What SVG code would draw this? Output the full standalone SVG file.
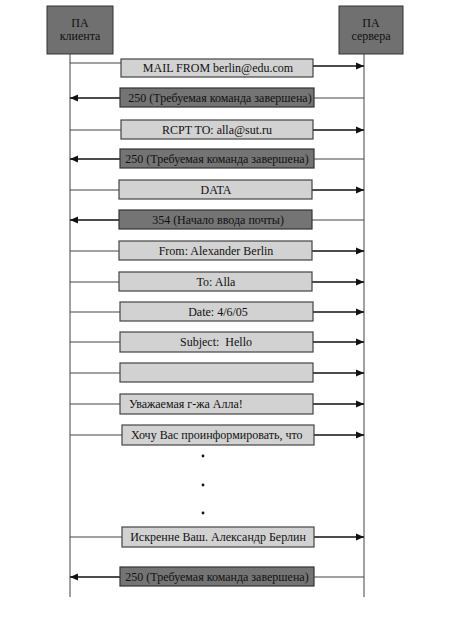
<svg xmlns="http://www.w3.org/2000/svg" width="449" height="620" viewBox="0 0 449 620">
<defs>
<style>
text{font-family:"Liberation Serif","Times New Roman",serif;font-size:12px;fill:#111}
.hdr{fill:#707070;stroke:#333;stroke-width:1}
.lt{fill:#d2d2d2;stroke:#444;stroke-width:1.2}
.dk{fill:#747474;stroke:#333;stroke-width:1.2}
.life{stroke:#444;stroke-width:1;fill:none}
.ln{stroke:#444;stroke-width:1;fill:none}
.ar{stroke:#111;stroke-width:1.5;fill:none}
.c{text-anchor:middle}
</style>
<marker id="ah" viewBox="0 0 8 8" refX="8" refY="4" markerWidth="8" markerHeight="8" markerUnits="userSpaceOnUse" orient="auto">
<path d="M0,0.5 L8,4 L0,7.5 Z" fill="#111"/>
</marker>
</defs>
<rect width="449" height="620" fill="#fff"/>
<g id="client">
<rect class="hdr" x="47" y="6" width="66" height="48"/>
<text class="c" x="80" y="27">ПА</text>
<text class="c" x="80" y="40">клиента</text>
</g>
<g id="server">
<rect class="hdr" x="339" y="6" width="64" height="48"/>
<text class="c" x="371" y="27">ПА</text>
<text class="c" x="371" y="40">сервера</text>
</g>
<g id="connectors">
<line class="life" x1="70" y1="54" x2="70" y2="597"/>
<line class="life" x1="364" y1="54" x2="364" y2="597"/>
<line class="ln" x1="70" y1="63" x2="121" y2="63"/>
<line class="ar" x1="313" y1="66" x2="364" y2="66" marker-end="url(#ah)"/>
<line class="ln" x1="314" y1="98" x2="364" y2="98"/>
<line class="ar" x1="120" y1="98" x2="70" y2="98" marker-end="url(#ah)"/>
<line class="ln" x1="70" y1="130" x2="121" y2="130"/>
<line class="ar" x1="313" y1="130" x2="364" y2="130" marker-end="url(#ah)"/>
<line class="ln" x1="314" y1="159" x2="364" y2="159"/>
<line class="ar" x1="120" y1="159" x2="70" y2="159" marker-end="url(#ah)"/>
<line class="ln" x1="70" y1="190" x2="119" y2="190"/>
<line class="ar" x1="312" y1="190" x2="364" y2="190" marker-end="url(#ah)"/>
<line class="ln" x1="312" y1="220" x2="364" y2="220"/>
<line class="ar" x1="119" y1="220" x2="70" y2="220" marker-end="url(#ah)"/>
<line class="ln" x1="70" y1="251" x2="119" y2="251"/>
<line class="ar" x1="312" y1="251" x2="364" y2="251" marker-end="url(#ah)"/>
<line class="ln" x1="70" y1="282" x2="119" y2="282"/>
<line class="ar" x1="312" y1="282" x2="364" y2="282" marker-end="url(#ah)"/>
<line class="ln" x1="70" y1="312" x2="120" y2="312"/>
<line class="ar" x1="313" y1="312" x2="364" y2="312" marker-end="url(#ah)"/>
<line class="ln" x1="70" y1="342" x2="120" y2="342"/>
<line class="ar" x1="313" y1="342" x2="364" y2="342" marker-end="url(#ah)"/>
<line class="ln" x1="70" y1="373" x2="120" y2="373"/>
<line class="ar" x1="313" y1="373" x2="364" y2="373" marker-end="url(#ah)"/>
<line class="ln" x1="70" y1="404" x2="120" y2="404"/>
<line class="ar" x1="313" y1="404" x2="364" y2="404" marker-end="url(#ah)"/>
<line class="ln" x1="70" y1="435" x2="122" y2="435"/>
<line class="ar" x1="314" y1="435" x2="364" y2="435" marker-end="url(#ah)"/>
<line class="ln" x1="70" y1="537" x2="122" y2="537"/>
<line class="ar" x1="314" y1="537" x2="364" y2="537" marker-end="url(#ah)"/>
<line class="ln" x1="314" y1="577" x2="364" y2="577"/>
<line class="ar" x1="120" y1="577" x2="70" y2="577" marker-end="url(#ah)"/>
</g>
<g id="m1"><rect class="lt" x="121" y="59" width="192" height="18"/><text class="c" x="218" y="72">MAIL FROM berlin@edu.com</text></g>
<g id="m2"><rect class="dk" x="120" y="88" width="194" height="19"/><text class="c" x="220" y="102">250 (Требуемая команда завершена)</text></g>
<g id="m3"><rect class="lt" x="121" y="120" width="192" height="19"/><text class="c" x="217" y="134">RCPT TO: alla@sut.ru</text></g>
<g id="m4"><rect class="dk" x="120" y="149" width="194" height="19"/><text class="c" x="217" y="163">250 (Требуемая команда завершена)</text></g>
<g id="m5"><rect class="lt" x="119" y="180" width="193" height="19"/><text class="c" x="216" y="194">DATA</text></g>
<g id="m6"><rect class="dk" x="119" y="210" width="193" height="19"/><text class="c" x="218" y="224">354 (Начало ввода почты)</text></g>
<g id="m7"><rect class="lt" x="119" y="241" width="193" height="19"/><text class="c" x="216" y="255">From: Alexander Berlin</text></g>
<g id="m8"><rect class="lt" x="119" y="272" width="193" height="19"/><text class="c" x="216" y="286">To: Alla</text></g>
<g id="m9"><rect class="lt" x="120" y="302" width="193" height="19"/><text class="c" x="218" y="316">Date: 4/6/05</text></g>
<g id="m10"><rect class="lt" x="120" y="332" width="193" height="20"/><text class="c" x="216" y="346">Subject:&#160; Hello</text></g>
<g id="m11"><rect class="lt" x="120" y="363" width="193" height="19"/></g>
<g id="m12"><rect class="lt" x="120" y="394" width="193" height="20"/><text x="129" y="408">Уважаемая г-жа Алла!</text></g>
<g id="m13"><rect class="lt" x="122" y="425" width="192" height="20"/><text x="131" y="439">Хочу Вас проинформировать, что</text></g>
<g id="dots" fill="#111">
<circle cx="203" cy="456" r="1.4"/>
<circle cx="203" cy="485" r="1.4"/>
<circle cx="203" cy="513" r="1.4"/>
</g>
<g id="m14"><rect class="lt" x="122" y="527" width="192" height="20"/><text class="c" x="218" y="541">Искренне Ваш. Александр Берлин</text></g>
<g id="m15"><rect class="dk" x="120" y="567" width="194" height="19"/><text class="c" x="217" y="581">250 (Требуемая команда завершена)</text></g>
</svg>
